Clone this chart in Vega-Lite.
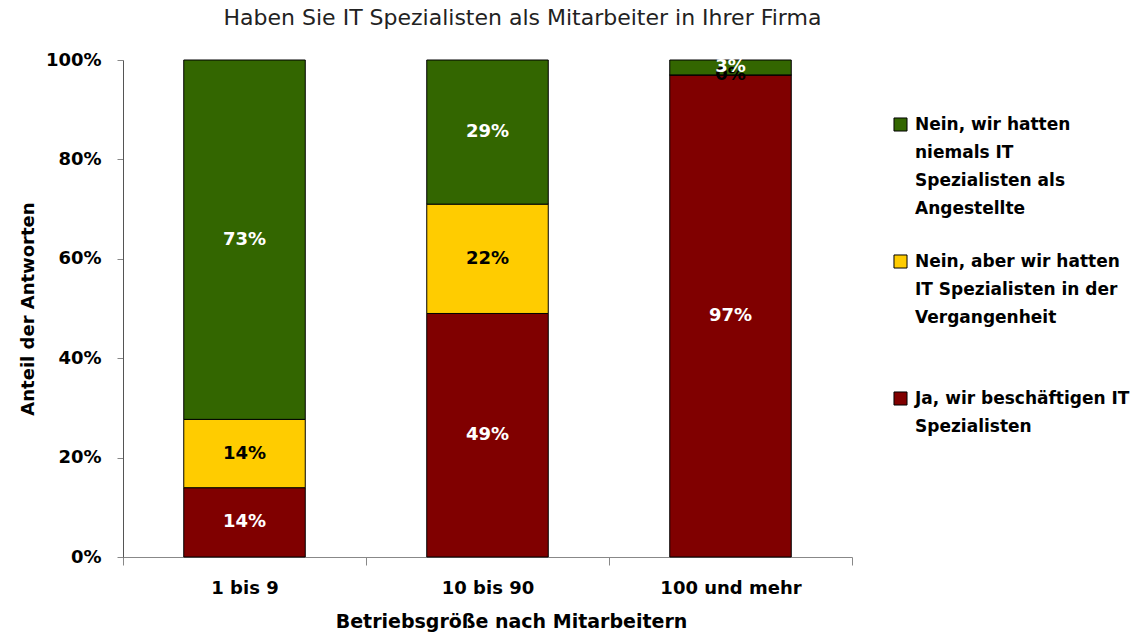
{
  "$schema": "https://vega.github.io/schema/vega-lite/v6.json",
  "autosize": {"type": "none"},
  "padding": {"left": 123, "top": 60, "right": 283, "bottom": 75},
  "width": 729,
  "height": 497,
  "background": "white",
  "title": {
    "text": "Haben Sie IT Spezialisten als Mitarbeiter in Ihrer Firma",
    "font": "DejaVu Sans",
    "fontSize": 22,
    "fontWeight": "normal",
    "color": "#222222",
    "anchor": "middle",
    "dx": 35,
    "offset": 21
  },
  "config": {
    "view": {"stroke": null},
    "font": "DejaVu Sans",
    "style": {"guide-label": {"lineHeight": 28}}
  },
  "data": {
    "values": [
      {"Betrieb": "1 bis 9", "Antwort": "Ja, wir beschäftigen IT Spezialisten", "ord": 1, "value": 0.140},
      {"Betrieb": "1 bis 9", "Antwort": "Nein, aber wir hatten IT Spezialisten in der Vergangenheit", "ord": 2, "value": 0.138},
      {"Betrieb": "1 bis 9", "Antwort": "Nein, wir hatten niemals IT Spezialisten als Angestellte", "ord": 3, "value": 0.726},
      {"Betrieb": "10 bis 90", "Antwort": "Ja, wir beschäftigen IT Spezialisten", "ord": 1, "value": 0.49},
      {"Betrieb": "10 bis 90", "Antwort": "Nein, aber wir hatten IT Spezialisten in der Vergangenheit", "ord": 2, "value": 0.22},
      {"Betrieb": "10 bis 90", "Antwort": "Nein, wir hatten niemals IT Spezialisten als Angestellte", "ord": 3, "value": 0.29},
      {"Betrieb": "100 und mehr", "Antwort": "Ja, wir beschäftigen IT Spezialisten", "ord": 1, "value": 0.97},
      {"Betrieb": "100 und mehr", "Antwort": "Nein, aber wir hatten IT Spezialisten in der Vergangenheit", "ord": 2, "value": 0.0},
      {"Betrieb": "100 und mehr", "Antwort": "Nein, wir hatten niemals IT Spezialisten als Angestellte", "ord": 3, "value": 0.03}
    ]
  },
  "transform": [
    {"stack": "value", "groupby": ["Betrieb"], "sort": [{"field": "ord", "order": "ascending"}], "offset": "normalize", "as": ["y0", "y1"]}
  ],
  "encoding": {
    "x": {
      "field": "Betrieb",
      "type": "nominal",
      "sort": ["1 bis 9", "10 bis 90", "100 und mehr"],
      "scale": {"paddingInner": 0, "paddingOuter": 0},
      "axis": {
        "title": "Betriebsgröße nach Mitarbeitern",
        "titleFont": "DejaVu Sans",
        "titleFontSize": 19,
        "titleFontWeight": "bold",
        "titleColor": "#000000",
        "titlePadding": 15,
        "titleX": 388,
        "labelAngle": 0,
        "labelFont": "DejaVu Sans",
        "labelFontSize": 18,
        "labelFontWeight": "bold",
        "labelColor": "#000000",
        "labelPadding": 14,
        "tickBand": "extent",
        "tickSize": 8,
        "tickColor": "#888888",
        "domainColor": "#888888",
        "grid": false
      }
    }
  },
  "layer": [
    {
      "mark": {"type": "bar", "stroke": "#000000", "strokeWidth": 1, "width": {"band": 0.5}},
      "encoding": {
        "y": {
          "field": "y1",
          "type": "quantitative",
          "scale": {"domain": [0, 1]},
          "axis": {
            "title": "Anteil der Antworten",
            "titleFont": "DejaVu Sans",
            "titleFontSize": 18,
            "titleFontWeight": "bold",
            "titleColor": "#000000",
            "titlePadding": 8,
            "format": ".0%",
            "values": [0, 0.2, 0.4, 0.6, 0.8, 1],
            "labelFont": "DejaVu Sans",
            "labelFontSize": 18,
            "labelFontWeight": "bold",
            "labelColor": "#000000",
            "labelPadding": 16,
            "tickSize": 6,
            "tickColor": "#888888",
            "domainColor": "#555555",
            "grid": false
          }
        },
        "y2": {"field": "y0"},
        "color": {
          "field": "Antwort",
          "type": "nominal",
          "scale": {
            "domain": [
              "Nein, wir hatten niemals IT Spezialisten als Angestellte",
              "Nein, aber wir hatten IT Spezialisten in der Vergangenheit",
              "Ja, wir beschäftigen IT Spezialisten"
            ],
            "range": ["#336600", "#FFCC00", "#800000"]
          },
          "legend": {
            "title": null,
            "orient": "none",
            "legendX": 769,
            "legendY": 56,
            "symbolType": "square",
            "symbolSize": 170,
            "symbolStrokeColor": "#000000",
            "symbolStrokeWidth": 1,
            "symbolOpacity": 1,
            "labelFont": "DejaVu Sans",
            "labelFontSize": 17,
            "labelFontWeight": "bold",
            "labelColor": "#000000",
            "labelLimit": 400,
            "labelOffset": 6,
            "labelBaseline": "middle",
            "rowPadding": 35,
            "labelExpr": "datum.value == 'Nein, wir hatten niemals IT Spezialisten als Angestellte' ? ['Nein, wir hatten', 'niemals IT', 'Spezialisten als', 'Angestellte'] : datum.value == 'Nein, aber wir hatten IT Spezialisten in der Vergangenheit' ? ['Nein, aber wir hatten', 'IT Spezialisten in der', 'Vergangenheit', ' '] : ['Ja, wir beschäftigen IT', 'Spezialisten']"
          }
        },
        "order": {"field": "ord"}
      }
    },
    {
      "transform": [
        {"fold": ["y0", "y1"], "as": ["edge", "pos"]},
        {"aggregate": [{"op": "mean", "field": "pos", "as": "mid"}], "groupby": ["Betrieb", "Antwort", "ord", "value"]}
      ],
      "mark": {"type": "text", "font": "DejaVu Sans", "fontSize": 18, "fontWeight": "bold", "baseline": "middle"},
      "encoding": {
        "y": {"field": "mid", "type": "quantitative"},
        "text": {"field": "value", "type": "quantitative", "format": ".0%"},
        "order": {"field": "ord"},
        "color": {
          "condition": {"test": "datum.ord == 2", "value": "#000000"},
          "value": "#FFFFFF"
        }
      }
    }
  ]
}
